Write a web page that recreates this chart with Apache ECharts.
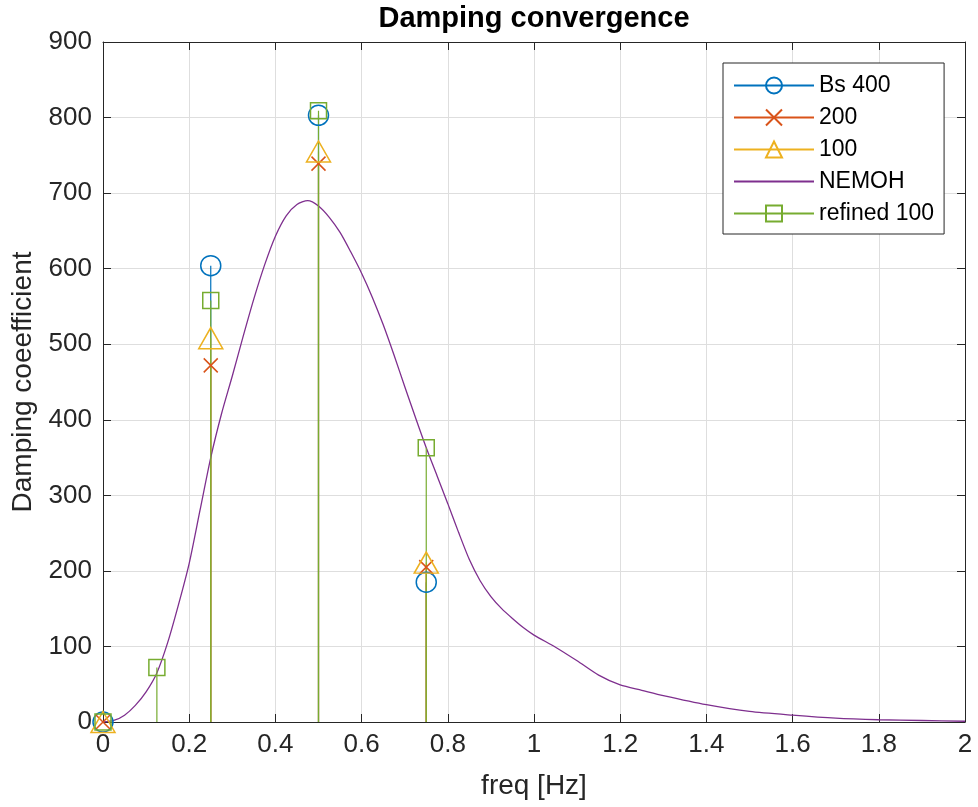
<!DOCTYPE html>
<html>
<head>
<meta charset="utf-8">
<script src="https://cdn.jsdelivr.net/npm/echarts@6/dist/echarts.min.js"></script>
<style>
  html, body { margin: 0; padding: 0; background: #fff; }
  #chart { width: 978px; height: 807px; }
</style>
</head>
<body>
<div id="chart"></div>
<script>
// Panel frequencies and damping coefficients from each mesh
const meshFreq = [0, 0.25, 0.5, 0.75];
const bs400 = [0, 604, 803, 185];
const bs200 = [0, 472, 739, 205];
const bs100 = [0, 508, 755, 211];

const refinedFreq = [0, 0.125, 0.25, 0.5, 0.75];
const refined100 = [0, 72, 558, 809, 363];

// NEMOH reference curve
const nemohFreq = [0, 0.025, 0.05, 0.075, 0.1, 0.125, 0.15, 0.175, 0.2, 0.225, 0.25, 0.275, 0.3, 0.325, 0.35, 0.375, 0.4, 0.425, 0.45, 0.475, 0.5, 0.525, 0.55, 0.575, 0.6, 0.625, 0.65, 0.675, 0.7, 0.725, 0.75, 0.775, 0.8, 0.825, 0.85, 0.875, 0.9, 0.925, 0.95, 0.975, 1.0, 1.05, 1.1, 1.15, 1.2, 1.25, 1.3, 1.4, 1.5, 1.6, 1.7, 1.8, 1.9, 2.0];
const nemohDamping = [0, 2, 9, 22, 40, 65, 105, 155, 210, 280, 350, 408, 458, 510, 560, 605, 643, 670, 685, 690, 683, 668, 648, 622, 594, 562, 526, 486, 444, 403, 363, 326, 289, 251, 215, 187, 166, 150, 137, 125, 115, 99, 81, 62, 49, 42, 35, 23, 14, 9, 5, 3, 2, 1];

const xTicks = [0, 0.2, 0.4, 0.6, 0.8, 1, 1.2, 1.4, 1.6, 1.8, 2];
const yTicks = [0, 100, 200, 300, 400, 500, 600, 700, 800, 900];

const FONT = "'Liberation Sans', Arial, Helvetica, sans-serif";
const INK = '#262626';

// vertical stems from zero up to each value, marker at the tip only
function stems(xs, ys) {
  const out = [];
  xs.forEach((x, i) => {
    out.push({ value: [x, 0], symbol: 'none' });
    out.push({ value: [x, ys[i]] });
    out.push([x, '-']);
  });
  return out;
}

function stemSeries(name, xs, ys, color, symbol, size) {
  return {
    name, type: 'line', data: stems(xs, ys),
    symbol, symbolSize: size, showAllSymbol: true, clip: false,
    connectNulls: false,
    lineStyle: { color, width: 1.2 },
    itemStyle: { color: 'rgba(0,0,0,0)', borderColor: color, borderWidth: 1.5 },
    emphasis: { disabled: true },
    animation: false
  };
}

const chart = echarts.init(document.getElementById('chart'), null, { renderer: 'canvas' });

const baseX = {
  type: 'value', min: xTicks[0], max: xTicks[xTicks.length - 1], interval: 0.2
};
const baseY = {
  type: 'value', min: yTicks[0], max: yTicks[yTicks.length - 1], interval: 100
};

chart.setOption({
  backgroundColor: '#fff',
  animation: false,
  grid: { left: 103, right: 13, top: 42, bottom: 85, containLabel: false },
  graphic: [{
    type: 'text', x: 534, y: 19,
    style: {
      text: 'Damping convergence', font: 'bold 29px ' + FONT,
      fill: '#000', textAlign: 'center', textVerticalAlign: 'middle'
    }
  }],
  xAxis: [
    Object.assign({}, baseX, {
      position: 'bottom',
      name: 'freq [Hz]', nameLocation: 'middle', nameGap: 50,
      nameTextStyle: { fontFamily: FONT, fontSize: 28, color: INK },
      axisLine: { show: true, onZero: false, lineStyle: { color: INK, width: 1 } },
      axisTick: { show: true, inside: true, length: 8, lineStyle: { color: INK } },
      axisLabel: {
        fontFamily: FONT, fontSize: 26, color: INK, margin: 10,
        formatter: v => String(Math.round(v * 10) / 10)
      },
      splitLine: { show: true, lineStyle: { color: '#dedede', width: 1 } }
    }),
    Object.assign({}, baseX, {
      position: 'top',
      axisLine: { show: true, onZero: false, lineStyle: { color: INK, width: 1 } },
      axisTick: { show: true, inside: true, length: 8, lineStyle: { color: INK } },
      axisLabel: { show: false },
      splitLine: { show: false }
    })
  ],
  yAxis: [
    Object.assign({}, baseY, {
      position: 'left',
      name: 'Damping coeefficient', nameLocation: 'middle', nameGap: 64,
      nameTextStyle: { fontFamily: FONT, fontSize: 28, color: INK },
      axisLine: { show: true, onZero: false, lineStyle: { color: INK, width: 1 } },
      axisTick: { show: true, inside: true, length: 8, lineStyle: { color: INK } },
      axisLabel: { fontFamily: FONT, fontSize: 26, color: INK, margin: 11 },
      splitLine: { show: true, lineStyle: { color: '#dedede', width: 1 } }
    }),
    Object.assign({}, baseY, {
      position: 'right',
      axisLine: { show: true, onZero: false, lineStyle: { color: INK, width: 1 } },
      axisTick: { show: true, inside: true, length: 8, lineStyle: { color: INK } },
      axisLabel: { show: false },
      splitLine: { show: false }
    })
  ],
  legend: {
    left: 723, top: 63, orient: 'vertical',
    backgroundColor: '#fff', borderColor: INK, borderWidth: 1,
    padding: [11, 10, 9, 10], itemGap: 9,
    itemWidth: 80, itemHeight: 20,
    textStyle: { fontFamily: FONT, fontSize: 23, color: '#000', lineHeight: 22 },
    data: [
      'Bs 400', '200', '100',
      { name: 'NEMOH', itemStyle: { color: 'rgba(0,0,0,0)', borderWidth: 0, opacity: 0 } },
      'refined 100'
    ]
  },
  series: [
    stemSeries('Bs 400', meshFreq, bs400, '#0072BD', 'circle', 20),
    stemSeries('200', meshFreq, bs200, '#D95319', 'path://M0,0L10,10M10,0L0,10', 14),
    stemSeries('100', meshFreq, bs100, '#EDB120', 'triangle', [24, 21]),
    {
      name: 'NEMOH', type: 'line',
      data: nemohFreq.map((f, i) => [f, nemohDamping[i]]),
      symbol: 'none', smooth: 0.25, clip: true,
      lineStyle: { color: '#7E2F8E', width: 1.3 },
      itemStyle: { color: '#7E2F8E' },
      emphasis: { disabled: true }
    },
    stemSeries('refined 100', refinedFreq, refined100, '#77AC30', 'rect', 16)
  ]
});
</script>
</body>
</html>
